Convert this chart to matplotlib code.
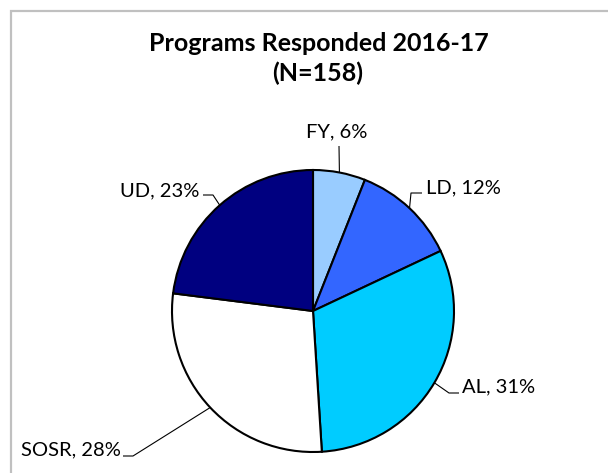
import matplotlib
matplotlib.use("Agg")
import matplotlib.pyplot as plt
from matplotlib.patches import Rectangle
import numpy as np

categories = ["FY", "LD", "AL", "SOSR", "UD"]
values = [6, 12, 31, 28, 23]
colors = ["#99CCFF", "#3366FF", "#00CCFF", "#FFFFFF", "#000080"]
title_lines = ["Programs Responded 2016-17", "(N=158)"]

W, H = 608, 473
fig = plt.figure(figsize=(W / 100, H / 100), dpi=100)
ax = fig.add_axes([0, 0, 1, 1])
ax.set_axis_off()

# border
fig.patches.append(Rectangle((10.5 / W, 0 - 0.1), 2, (H - 11.5) / H + 0.1,
                             transform=fig.transFigure, fill=False,
                             edgecolor="#C0C0C0", linewidth=1.6))

cx, cy, r = 313, H - 311, 141
ax.pie(values, colors=colors, startangle=90, counterclock=False,
       center=(cx, cy), radius=r,
       wedgeprops=dict(edgecolor="black", linewidth=1.5))
ax.set_xlim(0, W)
ax.set_ylim(0, H)
ax.set_aspect("equal")

font = "Lato"
ax.text(319, H - 44, title_lines[0], ha="center", va="center",
        fontsize=18, fontweight="bold", family=font, color="black")
ax.text(318, H - 73, title_lines[1], ha="center", va="center",
        fontsize=18, fontweight="bold", family=font, color="black")

# label layout (pixel coords from top): text pos, alignment, leader path after edge point
layout = {
    "FY":   dict(xy=(337, 132), ha="center", path=[(339, 146)]),
    "LD":   dict(xy=(426, 188), ha="left",   path=[(411, 193), (422, 193)]),
    "AL":   dict(xy=(462, 387), ha="left",   path=[(449, 393), (459, 393)]),
    "SOSR": dict(xy=(121, 450), ha="right",  path=[(133, 456), (123, 456)]),
    "UD":   dict(xy=(199, 191), ha="right",  path=[(213, 195), (203, 195)]),
}

total = sum(values)
cum = 0
for cat, v in zip(categories, values):
    mid = (cum + v / 2) / total
    cum += v
    ang = np.deg2rad(90 - 360 * mid)
    ex, ey = cx + r * np.cos(ang), cy + r * np.sin(ang)
    L = layout[cat]
    pts = [(ex, ey)] + [(px, H - py) for px, py in L["path"]]
    xs, ys = zip(*pts)
    ax.plot(xs, ys, color="black", linewidth=0.8, solid_capstyle="butt")
    tx, ty = L["xy"]
    ax.text(tx, H - ty, f"{cat}, {round(100 * v / total)}%", ha=L["ha"],
            va="center", fontsize=14.5, family=font, color="black")

fig.savefig("out.png", dpi=100)
